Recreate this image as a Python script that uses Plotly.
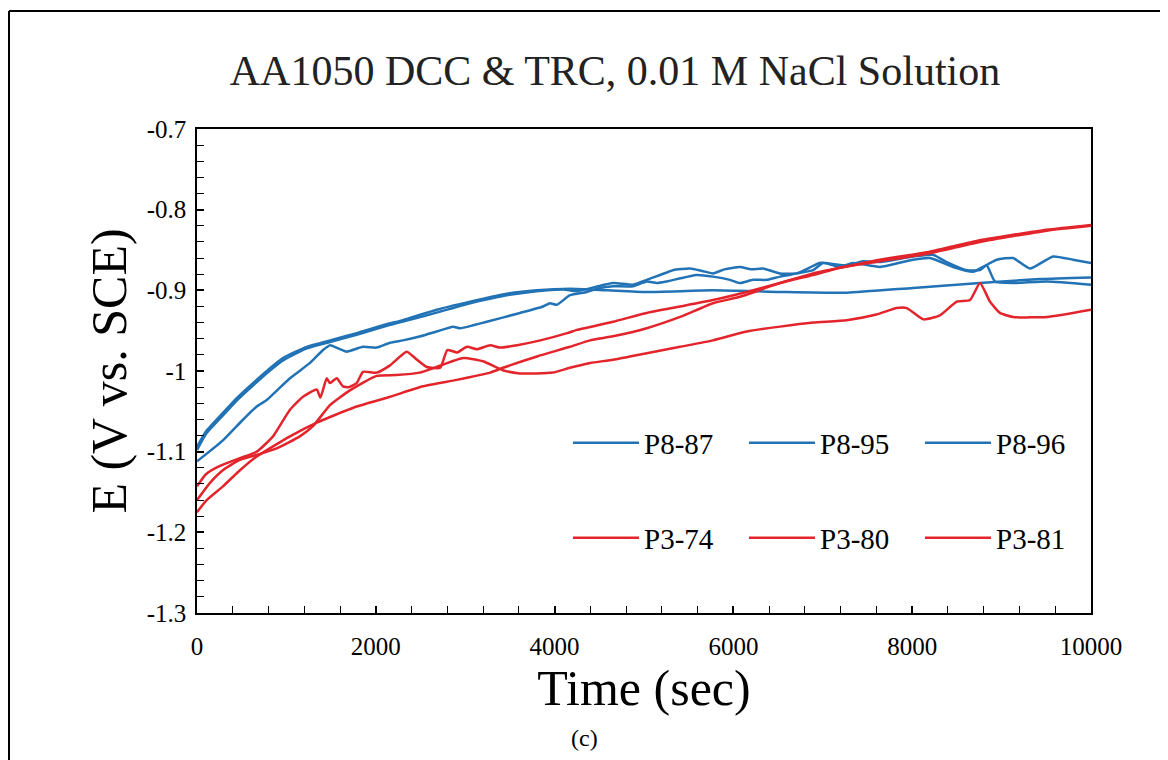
import plotly.graph_objects as go

# ---------------- data ----------------
t_p8_87 = [0, 100, 290, 450, 626, 800, 962, 1227, 1488, 1786, 2122, 2304, 2681, 3054, 3423, 3800,
           4172, 4600, 5030, 5772, 6522, 7268, 8009, 8758, 9430, 10000]
e_p8_87 = [-1.094, -1.075, -1.052, -1.033, -1.015, -0.998, -0.984, -0.970, -0.962, -0.953, -0.942, -0.937,
           -0.924, -0.914, -0.905, -0.900, -0.898, -0.900, -0.902, -0.900, -0.902, -0.903, -0.897, -0.891,
           -0.886, -0.884]

t_p8_95 = [0, 100, 290, 450, 626, 800, 962, 1227, 1488, 1786, 2122, 2400, 2700, 3054, 3423, 3800, 4100,
           4250, 4450, 4654, 4877, 5030, 5180, 5325, 5515, 5650, 5772, 5900, 6074, 6200, 6331, 6522, 6708,
           6850, 6965, 7268, 7450, 7640, 8009, 8233, 8386, 8610, 8758, 8833, 8926, 9128, 9505, 10000]
e_p8_95 = [-1.098, -1.078, -1.055, -1.036, -1.018, -1.001, -0.987, -0.972, -0.964, -0.955, -0.944, -0.936,
           -0.927, -0.916, -0.907, -0.901, -0.899, -0.901, -0.896, -0.891, -0.893, -0.887, -0.881, -0.875,
           -0.873, -0.876, -0.879, -0.874, -0.871, -0.874, -0.873, -0.879, -0.879, -0.872, -0.866, -0.869,
           -0.864, -0.865, -0.858, -0.856, -0.865, -0.875, -0.875, -0.869, -0.889, -0.891, -0.889, -0.893]

t_p8_96 = [0, 290, 500, 668, 780, 1040, 1264, 1410, 1488, 1580, 1675, 1857, 2010, 2159, 2304, 2500, 2681,
           2864, 2942, 3100, 3241, 3613, 3870, 3949, 4024, 4172, 4359, 4508, 4654, 4877, 5030, 5142, 5254,
           5590, 5772, 5962, 6074, 6219, 6373, 6522, 6708, 6891, 7003, 7190, 7338, 7640, 8009, 8199, 8457,
           8680, 8792, 8946, 9128, 9318, 9575, 9799, 10000]
e_p8_96 = [-1.112, -1.086, -1.062, -1.044, -1.036, -1.009, -0.990, -0.974, -0.968, -0.972, -0.976, -0.970,
           -0.971, -0.965, -0.962, -0.957, -0.951, -0.945, -0.947, -0.943, -0.939, -0.928, -0.920, -0.916,
           -0.918, -0.906, -0.902, -0.897, -0.895, -0.895, -0.889, -0.891, -0.889, -0.881, -0.883, -0.887,
           -0.891, -0.887, -0.887, -0.883, -0.879, -0.875, -0.866, -0.871, -0.866, -0.871, -0.862, -0.860,
           -0.871, -0.877, -0.871, -0.862, -0.860, -0.873, -0.858, -0.862, -0.866]

t_p3_74 = [0, 100, 250, 480, 668, 850, 1040, 1186, 1339, 1380, 1451, 1488, 1563, 1633, 1700, 1786, 1857,
           2010, 2159, 2346, 2450, 2570, 2720, 2800, 2910, 3020, 3130, 3280, 3390, 3580, 3840, 4140, 4250,
           4654, 5030, 5403, 5772, 6149, 6522, 6891, 7193, 7640, 8199, 8758, 9505, 10000]
e_p3_74 = [-1.143, -1.128, -1.118, -1.108, -1.100, -1.081, -1.048, -1.032, -1.023, -1.033, -1.009, -1.015,
           -1.009, -1.019, -1.020, -1.015, -1.001, -1.002, -0.993, -0.976, -0.985, -0.995, -0.996, -0.974,
           -0.977, -0.970, -0.973, -0.968, -0.971, -0.968, -0.962, -0.953, -0.949, -0.939, -0.928, -0.920,
           -0.912, -0.902, -0.891, -0.879, -0.872, -0.862, -0.852, -0.838, -0.825, -0.819]

t_p3_80 = [0, 150, 300, 480, 668, 890, 1150, 1300, 1490, 1710, 2010, 2230, 2490, 2680, 2980, 3200, 3420,
           3610, 3980, 4170, 4400, 4654, 5030, 5403, 5772, 6149, 6522, 6891, 7268, 7600, 7827, 7939, 8125,
           8311, 8498, 8647, 8758, 8870, 8982, 9128, 9505, 10000]
e_p3_80 = [-1.160, -1.138, -1.122, -1.110, -1.104, -1.096, -1.081, -1.068, -1.042, -1.024, -1.006, -1.005,
           -1.002, -0.995, -0.984, -0.988, -0.999, -1.003, -1.002, -0.996, -0.990, -0.986, -0.978, -0.970,
           -0.962, -0.951, -0.945, -0.940, -0.937, -0.930, -0.922, -0.922, -0.936, -0.931, -0.914, -0.912,
           -0.891, -0.914, -0.928, -0.933, -0.933, -0.924]

t_p3_81 = [0, 108, 290, 481, 668, 1040, 1339, 1488, 1786, 2159, 2528, 2905, 3278, 3423, 3803, 4172, 4396,
           4654, 5030, 5403, 5772, 6074, 6522, 6891, 7193, 7640, 8199, 8758, 9505, 10000]
e_p3_81 = [-1.175, -1.160, -1.143, -1.123, -1.106, -1.081, -1.064, -1.057, -1.044, -1.032, -1.019, -1.011,
           -1.002, -0.996, -0.982, -0.970, -0.962, -0.957, -0.947, -0.933, -0.916, -0.908, -0.891, -0.881,
           -0.872, -0.864, -0.854, -0.840, -0.826, -0.820]

x_tickvals = [0, 2000, 4000, 6000, 8000, 10000]
x_ticktext = ["0", "2000", "4000", "6000", "8000", "10000"]
y_tickvals = [-1.3, -1.2, -1.1, -1.0, -0.9, -0.8, -0.7]
y_ticktext = ["-1.3", "-1.2", "-1.1", "-1", "-0.9", "-0.8", "-0.7"]

# ---------------- figure ----------------
BLUE = "#2273b5"
RED = "#e3242b"
FONT = "Liberation Serif, Times New Roman, serif"

series = [
    ("P8-87", t_p8_87, e_p8_87, BLUE, "legend"),
    ("P8-95", t_p8_95, e_p8_95, BLUE, "legend"),
    ("P8-96", t_p8_96, e_p8_96, BLUE, "legend"),
    ("P3-74", t_p3_74, e_p3_74, RED, "legend2"),
    ("P3-80", t_p3_80, e_p3_80, RED, "legend2"),
    ("P3-81", t_p3_81, e_p3_81, RED, "legend2"),
]

fig = go.Figure()
for name, t, e, col, lg in series:
    fig.add_trace(go.Scatter(x=t, y=e, mode="lines", name=name, legend=lg,
                             line=dict(color=col, width=2.5, shape="spline", smoothing=0.5)))

# the page body adds an 8px offset; figure is sized so the plot area lands on the reference pixels
OFF = 8
W, H = 1168 - OFF, 760 - OFF
X0, X1, Y0, Y1 = 197, 1091, 129, 613          # plot area in window pixels
L, R, T, B = X0 - OFF, 1168 - X1, Y0 - OFF, 760 - Y1


def px(xv):
    return (xv - X0) / (X1 - X0)


def py(yv):
    return (Y1 - yv) / (Y1 - Y0)


leg_common = dict(orientation="h", xanchor="left", yanchor="middle", bgcolor="rgba(0,0,0,0)",
                  font=dict(family=FONT, size=29, color="black"), entrywidth=95, itemwidth=66,
                  traceorder="normal")

fig.update_layout(
    width=W, height=H,
    margin=dict(l=L, r=R, t=T, b=B),
    paper_bgcolor="white", plot_bgcolor="white",
    font=dict(family=FONT, color="black"),
    title=dict(text="AA1050 DCC & TRC, 0.01 M NaCl Solution", xref="container", yref="container",
               x=(615 - OFF) / W, y=1 - (70 - OFF) / H, xanchor="center", yanchor="middle",
               font=dict(family=FONT, size=42, color="#222")),
    legend=dict(x=px(568), y=py(443), **leg_common),
    legend2=dict(x=px(568), y=py(538), **leg_common),
    xaxis=dict(range=[0, 10000], tickmode="array", tickvals=x_tickvals, ticktext=x_ticktext,
               ticks="inside", ticklen=7, tickwidth=1.5, tickcolor="black",
               minor=dict(tickmode="linear", tick0=0, dtick=400, ticks="inside", ticklen=7,
                          tickwidth=1.2, tickcolor="black"),
               showline=True, linecolor="black", linewidth=1.5, mirror=True,
               showgrid=False, zeroline=False,
               tickfont=dict(family=FONT, size=25, color="black"), ticklabelstandoff=10,
               title=dict(text="Time (sec)", font=dict(family=FONT, size=50, color="black"), standoff=8)),
    yaxis=dict(range=[-1.3, -0.7], tickmode="array", tickvals=y_tickvals, ticktext=y_ticktext,
               ticks="inside", ticklen=7, tickwidth=1.5, tickcolor="black",
               minor=dict(tickmode="linear", tick0=-1.3, dtick=0.02, ticks="inside", ticklen=7,
                          tickwidth=1.2, tickcolor="black"),
               showline=True, linecolor="black", linewidth=1.5, mirror=True,
               showgrid=False, zeroline=False,
               tickfont=dict(family=FONT, size=25, color="black"), ticklabelstandoff=4,
               title=dict(text="E (V vs. SCE)", font=dict(family=FONT, size=50, color="black"), standoff=4)),
)

# outer frame of the figure (left and top edges visible)
fig.add_shape(type="line", xref="paper", yref="paper", x0=px(9), x1=px(9), y0=py(800), y1=py(11),
              line=dict(color="black", width=2))
fig.add_shape(type="line", xref="paper", yref="paper", x0=px(9), x1=px(1200), y0=py(11), y1=py(11),
              line=dict(color="black", width=2))

fig.add_annotation(text="(c)", xref="paper", yref="paper", x=px(584), y=py(738), showarrow=False,
                   xanchor="center", yanchor="middle", font=dict(family=FONT, size=24, color="black"))

fig.write_html("out.html")
